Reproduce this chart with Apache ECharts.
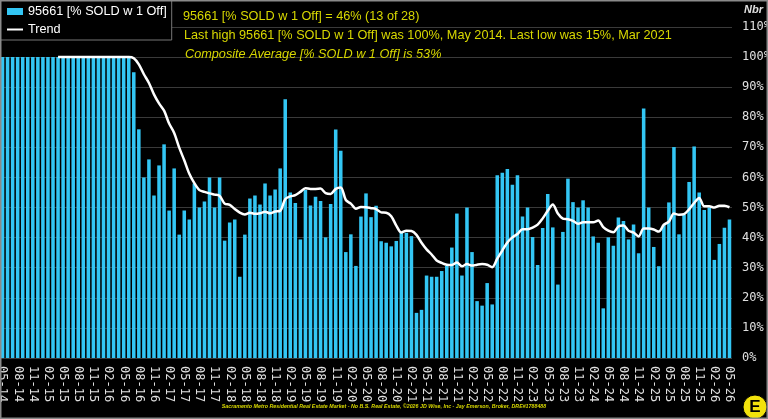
<!DOCTYPE html>
<html>
<head>
<meta charset="utf-8">
<script src="https://cdn.jsdelivr.net/npm/echarts@6/dist/echarts.min.js"></script>
<style>
  html, body { margin: 0; padding: 0; background: #000; }
  #chart { width: 768px; height: 419px; }
</style>
</head>
<body>
<div id="chart"></div>
<script>
// month labels, 05-14 .. 05-26
const months = [
  '05-14', '06-14', '07-14', '08-14', '09-14', '10-14', '11-14', '12-14',
  '01-15', '02-15', '03-15', '04-15', '05-15', '06-15', '07-15', '08-15', '09-15', '10-15', '11-15', '12-15',
  '01-16', '02-16', '03-16', '04-16', '05-16', '06-16', '07-16', '08-16', '09-16', '10-16', '11-16', '12-16',
  '01-17', '02-17', '03-17', '04-17', '05-17', '06-17', '07-17', '08-17', '09-17', '10-17', '11-17', '12-17',
  '01-18', '02-18', '03-18', '04-18', '05-18', '06-18', '07-18', '08-18', '09-18', '10-18', '11-18', '12-18',
  '01-19', '02-19', '03-19', '04-19', '05-19', '06-19', '07-19', '08-19', '09-19', '10-19', '11-19', '12-19',
  '01-20', '02-20', '03-20', '04-20', '05-20', '06-20', '07-20', '08-20', '09-20', '10-20', '11-20', '12-20',
  '01-21', '02-21', '03-21', '04-21', '05-21', '06-21', '07-21', '08-21', '09-21', '10-21', '11-21', '12-21',
  '01-22', '02-22', '03-22', '04-22', '05-22', '06-22', '07-22', '08-22', '09-22', '10-22', '11-22', '12-22',
  '01-23', '02-23', '03-23', '04-23', '05-23', '06-23', '07-23', '08-23', '09-23', '10-23', '11-23', '12-23',
  '01-24', '02-24', '03-24', '04-24', '05-24', '06-24', '07-24', '08-24', '09-24', '10-24', '11-24', '12-24',
  '01-25', '02-25', '03-25', '04-25', '05-25', '06-25', '07-25', '08-25', '09-25', '10-25', '11-25', '12-25',
  '01-26', '02-26', '03-26', '04-26', '05-26'
];

// % sold with 1 offer, per month
const pctSold = [
  100, 100, 100, 100, 100, 100, 100, 100,
  100, 100, 100, 100, 100, 100, 100, 100, 100, 100, 100, 100,
  100, 100, 100, 100, 100, 100, 95, 76, 60, 66, 54, 64,
  71, 49, 63, 41, 49, 46, 58, 50, 52, 60, 50, 60,
  39, 45, 46, 27, 41, 53, 54, 51, 58, 54, 56, 63,
  86, 55, 51.5, 39.4, 55.8, 50.7, 53.6, 52.2, 40.1, 51.2, 75.9, 68.9,
  35.2, 41.1, 30.6, 47, 54.7, 46.8, 50.6, 38.8, 38.3, 37.1, 38.9, 41.6,
  41.6, 40.5, 15, 16, 27.4, 27, 27, 28.9, 30.6, 36.7, 48, 27.4,
  50, 35.2, 18.9, 17.4, 24.9, 17.8, 60.7, 61.6, 62.8, 57.6, 60.7, 47,
  50, 40.2, 30.9, 43.2, 54.5, 43.4, 24.4, 41.9, 59.6, 51.8, 50, 52.4,
  50, 40.4, 38.3, 16.5, 40.1, 37.3, 46.7, 45.5, 39.4, 44.4, 34.8, 82.9,
  50, 36.9, 30.5, 44.2, 51.7, 70.1, 41.1, 47.7, 58.5, 70.3, 55, 49.2,
  50, 32.6, 37.9, 43.3, 46
];

// trend line (starts 04-15)
const trend = [
  null, null, null, null, null, null, null, null,
  null, null, null, 100, 100, 100, 100, 100, 100, 100, 100, 100,
  100, 100, 100, 100, 100, 100, 99.6, 97.6, 94.3, 91.4, 87.6, 84.6,
  82.2, 77.9, 74.8, 69.9, 65.7, 61.2, 58.1, 55.8, 55.2, 54.7, 54.3, 53.9,
  51.3, 50.9, 49.5, 48.3, 47.7, 48.3, 47.9, 48.1, 48.6, 48.1, 48.7, 48.9,
  52.8, 53.7, 54.1, 55.2, 56.4, 56.2, 56.2, 56.3, 54.8, 54.5, 56.2, 56.7,
  52.5, 51.3, 49.6, 50.2, 50.1, 49.8, 49.5, 48.4, 48.3, 47.1, 44.0, 41.7,
  42.3, 42.2, 40.9, 38.3, 36.1, 34.4, 32.4, 31.6, 31.0, 30.9, 31.7, 30.5,
  31.2, 30.7, 31.0, 31.2, 31.0, 30.2, 33.0, 35.7, 38.4, 40.1, 41.2, 42.8,
  42.8, 43.3, 44.3, 46.4, 48.9, 51.0, 48.0, 46.3, 46.1, 45.6, 44.6, 45.1,
  45.1, 45.1, 45.7, 43.5, 42.3, 41.8, 43.7, 44.0, 42.3, 41.7, 40.4, 43.0,
  43.0, 42.7, 42.0, 44.3, 45.3, 48.0, 47.6, 47.8, 49.4, 51.5, 53.2, 50.4,
  50.4, 50.0, 50.6, 50.6, 50.1
];

const yTicks = [0, 10, 20, 30, 40, 50, 60, 70, 80, 90, 100, 110];

const seriesName = '95661 [% SOLD w 1 Off]';
const titleLines = [
  '95661 [% SOLD w 1 Off] = 46% (13 of 28)',
  'Last high 95661 [% SOLD w 1 Off] was 100%, May 2014. Last low was 15%, Mar 2021',
  'Composite Average [% SOLD w 1 Off] is 53%'
];
const footer = 'Sacramento Metro Residential Real Estate Market - No B.S. Real Estate, \u00A92026 JD Wise, Inc - Jay Emerson, Broker, DRE#1788488';

const yellow = '#d8d800';
const chart = echarts.init(document.getElementById('chart'), null, { renderer: 'canvas' });

function titleLine(text, left, top, italic) {
  return {
    text: text,
    left: left,
    top: top,
    padding: 0,
    textStyle: {
      color: yellow,
      fontSize: 12.7,
      fontWeight: 'normal',
      fontStyle: italic ? 'italic' : 'normal',
      fontFamily: 'Liberation Sans'
    }
  };
}

const option = {
  backgroundColor: '#000',
  animation: false,
  title: [
    titleLine(titleLines[0], 183, 10, false),
    titleLine(titleLines[1], 184, 29, false),
    titleLine(titleLines[2], 185, 48, true),
    {
      text: footer, left: 'center', top: 404, padding: 0,
      textStyle: { color: yellow, fontSize: 5.3, fontWeight: 'bold', fontStyle: 'italic', fontFamily: 'Liberation Sans' }
    }
  ],
  legend: {
    left: 0,
    top: 0,
    orient: 'vertical',
    padding: [5, 5, 4, 6],
    itemGap: 5,
    itemWidth: 16,
    itemHeight: 7,
    backgroundColor: '#000',
    borderColor: '#777',
    borderWidth: 1,
    textStyle: { color: '#fff', fontSize: 12.7, fontFamily: 'Liberation Sans' },
    data: [
      { name: seriesName, icon: 'rect' },
      { name: 'Trend', itemStyle: { opacity: 0 }, lineStyle: { color: '#fff', width: 2 } }
    ]
  },
  grid: { left: 0, right: 36, top: 27, bottom: 61, containLabel: false, outerBoundsMode: 'none' },
  xAxis: {
    type: 'category',
    data: months,
    axisLine: { show: false },
    axisTick: { show: false },
    axisLabel: {
      interval: 2,
      rotate: -90,
      margin: 8,
      color: '#e0e0e0',
      fontSize: 12,
      fontFamily: 'DejaVu Sans Mono'
    }
  },
  yAxis: {
    type: 'value',
    position: 'right',
    min: yTicks[0],
    max: yTicks[yTicks.length - 1],
    interval: 10,
    axisLine: { show: false },
    axisTick: { show: false },
    axisLabel: {
      formatter: '{value}%',
      margin: 10,
      color: '#e0e0e0',
      fontSize: 12,
      fontFamily: 'DejaVu Sans Mono'
    },
    splitLine: { lineStyle: { color: '#3a3a3a', width: 1 } }
  },
  series: [
    {
      name: seriesName,
      type: 'bar',
      data: pctSold,
      barCategoryGap: '30%',
      itemStyle: { color: '#33c6f4' }
    },
    {
      name: 'Trend',
      type: 'line',
      data: trend,
      symbol: 'none',
      smooth: 0.3,
      lineStyle: { color: '#fff', width: 2.5 },
      itemStyle: { color: '#fff' },
      z: 3
    }
  ],
  graphic: [
    {
      type: 'text', left: 744, top: 4,
      style: { text: 'Nbr', fill: '#e0e0e0', font: 'italic bold 11px Liberation Sans' }
    },
    {
      type: 'circle', shape: { cx: 755, cy: 407, r: 12 },
      style: { fill: '#f2e20c', stroke: '#000', lineWidth: 1 }, z: 10
    },
    {
      type: 'text', x: 755, y: 407,
      style: { text: 'E', fill: '#000', font: 'bold 17px Liberation Sans', align: 'center', verticalAlign: 'middle' }, z: 11
    },
    {
      type: 'rect', shape: { x: 0.5, y: 0.5, width: 767, height: 418 },
      style: { fill: 'none', stroke: '#8a8a8a', lineWidth: 2 }, z: 20
    }
  ]
};

chart.setOption(option);
</script>
</body>
</html>
